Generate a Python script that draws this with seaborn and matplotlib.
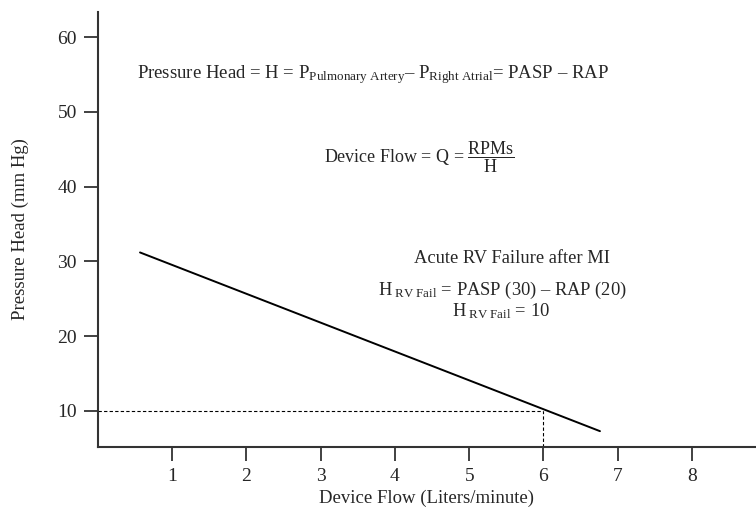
import matplotlib.pyplot as plt
import seaborn as sns
import pandas as pd

# pump curve
flow = [0.57, 6.76]
head = [31.2, 7.3]

# operating point for acute RV failure
op_flow = 6
op_head = 10

x_ticks = [1, 2, 3, 4, 5, 6, 7, 8]
y_ticks = [10, 20, 30, 40, 50, 60]

df = pd.DataFrame({'flow': flow, 'head': head})

sns.set_style('ticks')
plt.rcParams['font.family'] = ['Liberation Serif', 'DejaVu Serif']
plt.rcParams['mathtext.fontset'] = 'custom'
plt.rcParams['mathtext.rm'] = 'Liberation Serif'
plt.rcParams['mathtext.it'] = 'Liberation Serif:italic'

fig = plt.figure(figsize=(7.56, 5.12), dpi=100)
ax = fig.add_axes([0.1292, 0.1275, 0.8708, 0.8497])

sns.lineplot(data=df, x='flow', y='head', color='black', linewidth=1.4, ax=ax)

# dashed guides to the operating point
ax.plot([0, op_flow], [op_head, op_head], color='black', linestyle=(0, (3, 2)), linewidth=0.8)
ax.plot([op_flow, op_flow], [5.22, op_head], color='black', linestyle=(0, (3, 2)), linewidth=0.8)

ax.set_xlim(0, 8.86)
ax.set_ylim(5.22, 63.4)
ax.set_xticks(x_ticks)
ax.set_yticks(y_ticks)
ax.tick_params(axis='both', length=10, width=1.3, color='#333333', labelsize=14, pad=5)

sns.despine(ax=ax)
for s in ['left', 'bottom']:
    ax.spines[s].set_linewidth(1.5)
    ax.spines[s].set_color('#333333')

ax.set_xlabel('Device Flow (Liters/minute)', fontsize=13.5, labelpad=4)
ax.set_ylabel('Pressure Head (mm Hg)', fontsize=13.5, labelpad=20)

# annotations
ax.text(0.53, 54.5, r'Pressure Head = H = P$_{\mathrm{Pulmonary\ Artery}}$– P$_{\mathrm{Right\ Atrial}}$= PASP – RAP',
        fontsize=13.5, va='baseline', ha='left')
ax.text(3.05, 43.2, r'Device Flow = Q = $\dfrac{\mathrm{RPMs}}{\mathrm{H}}$',
        fontsize=13, va='baseline', ha='left')
ax.text(5.57, 29.8, 'Acute RV Failure after MI', fontsize=13.3, va='baseline', ha='center')
ax.text(5.45, 25.5, r'H$_{\mathrm{\ RV\ Fail}}$ = PASP (30) – RAP (20)', fontsize=13.3, va='baseline', ha='center')
ax.text(5.43, 22.6, r'H$_{\mathrm{\ RV\ Fail}}$ = 10', fontsize=13.3, va='baseline', ha='center')

plt.savefig('out.png', dpi=100)
